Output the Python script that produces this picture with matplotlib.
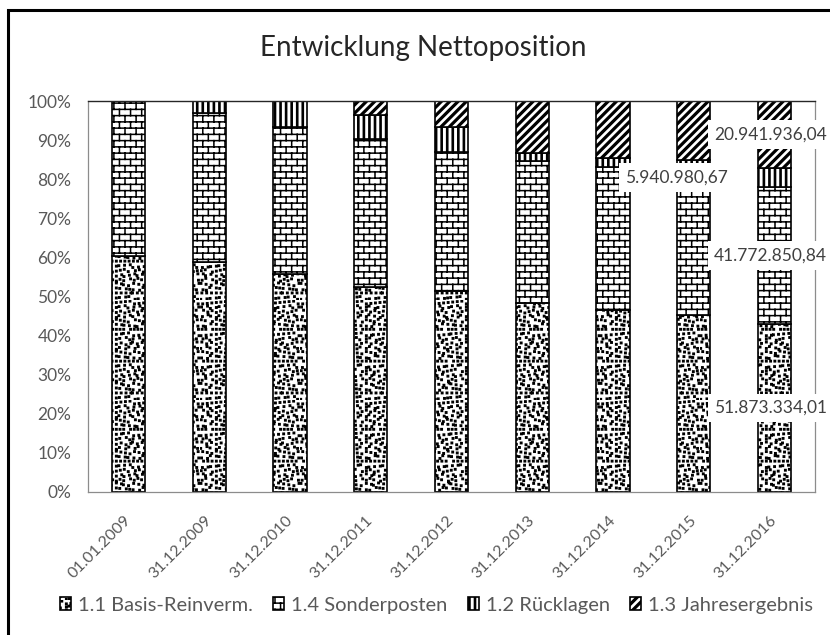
"""
Entwicklung Nettoposition - 100% gestapelte Säulen mit Schraffur-Mustern
(Basis-Reinvermögen, Sonderposten, Rücklagen, Jahresergebnis).
"""
import warnings

import matplotlib
matplotlib.use("Agg")
import matplotlib.pyplot as plt
import matplotlib.hatch as mhatch
from matplotlib.path import Path
from matplotlib.patches import Rectangle
import numpy as np

warnings.filterwarnings("ignore", message=".*hatch must consist.*")

# --- data (shares in % of Nettoposition) -----------------------------------
DATES = ["01.01.2009", "31.12.2009", "31.12.2010", "31.12.2011", "31.12.2012",
         "31.12.2013", "31.12.2014", "31.12.2015", "31.12.2016"]
BASIS = [60.4, 58.8, 55.7, 52.5, 51.4, 48.3, 46.5, 45.3, 43.0]
SONDERPOSTEN = [39.6, 38.1, 37.7, 37.8, 35.6, 36.4, 36.6, 34.7, 35.0]
RUECKLAGEN = [0.0, 3.1, 6.6, 6.1, 6.4, 2.0, 2.3, 4.9, 4.9]
JAHRESERGEBNIS = [0.0, 0.0, 0.0, 3.6, 6.6, 13.3, 14.6, 15.1, 17.1]
SERIES = ["1.1 Basis-Reinverm.", "1.4 Sonderposten", "1.2 Rücklagen",
          "1.3 Jahresergebnis"]
# data labels shown on the last column (same order as SERIES)
LABELS_2016 = ["51.873.334,01", "41.772.850,84", "5.940.980,67", "20.941.936,04"]

GRAY = "#595959"
MV, LT, CL = Path.MOVETO, Path.LINETO, Path.CLOSEPOLY


# --- custom fill patterns (unit tile = 1 inch) ------------------------------
def brick_tile(rows=16, cols=9):
    v, c = [], []
    h, w = 1.0 / rows, 1.0 / cols
    for r in range(rows):
        y = (r + 0.5) * h
        v += [(0, y), (1, y)]; c += [MV, LT]
        shift = 0.25 if r % 2 == 0 else 0.75
        for k in range(cols):
            x = (k + shift) * w
            if y + h <= 1:
                v += [(x, y), (x, y + h)]; c += [MV, LT]
            else:
                v += [(x, y), (x, 1), (x, 0), (x, y + h - 1)]; c += [MV, LT, MV, LT]
    return v, c


def confetti_tile(n=22, frac=0.3):
    # small squares on a grid, each nudged by a fixed hash so it reads as "confetti"
    v, c = [], []
    cell = 1.0 / n
    s = cell * frac
    for i in range(n):
        for j in range(n):
            jx = ((i * 37 + j * 61 + i * j * 17) % 11) / 11 * (cell - s)
            jy = ((i * 53 + j * 29 + i * j * 13) % 7) / 7 * (cell - s)
            x0, y0 = j * cell + jx, i * cell + jy
            v += [(x0, y0), (x0 + s, y0), (x0 + s, y0 + s), (x0, y0 + s), (x0, y0)]
            c += [MV, LT, LT, LT, CL]
    return v, c


def diagonal_tile(n=12, t=0.28):
    v, c = [], []
    d = 1.0 / n
    for k in range(-n, n):
        x0 = k * d
        v += [(x0, 0), (x0 + t * d, 0), (x0 + t * d + 1, 1), (x0 + 1, 1), (x0, 0)]
        c += [MV, LT, LT, LT, CL]
    return v, c


def vertical_tile(n=18, t=0.2):
    v, c = [], []
    d = 1.0 / n
    for k in range(n):
        x0 = (k + 0.5) * d - t * d / 2
        v += [(x0, 0), (x0 + t * d, 0), (x0 + t * d, 1), (x0, 1), (x0, 0)]
        c += [MV, LT, LT, LT, CL]
    return v, c


def register_hatch(char, builder):
    verts, codes = builder()

    class _Custom(mhatch.HatchPatternBase):
        def __init__(self, hatch, density):
            self.num_vertices = len(verts) if char in hatch else 0

        def set_vertices_and_codes(self, vertices, codes_out):
            vertices[:] = verts
            codes_out[:] = codes

    mhatch._hatch_types.append(_Custom)


register_hatch("c", confetti_tile)
register_hatch("b", brick_tile)
register_hatch("v", vertical_tile)
register_hatch("d", diagonal_tile)
HATCHES = ["c", "b", "v", "d"]

plt.rcParams["font.family"] = ["Lato", "DejaVu Sans"]
plt.rcParams["hatch.linewidth"] = 1.1
plt.rcParams["hatch.color"] = "black"

fig = plt.figure(figsize=(8.3, 6.35), dpi=100)
ax = fig.add_axes([88 / 830, 1 - 492 / 635, (815 - 88) / 830, (492 - 101) / 635])

x = np.arange(len(DATES))
values = [BASIS, SONDERPOSTEN, RUECKLAGEN, JAHRESERGEBNIS]
totals = np.sum(values, axis=0)
bottom = np.zeros(len(DATES))
handles = []
centers_last = []
for vals, name, hatch in zip(values, SERIES, HATCHES):
    share = np.array(vals) / totals * 100
    bars = ax.bar(x, share, 0.41, bottom=bottom, color="white", edgecolor="black",
                  linewidth=1.2, hatch=hatch, label=name)
    handles.append(bars)
    centers_last.append(bottom[-1] + share[-1] / 2)
    bottom += share

# data labels on the last column; the Rücklagen label was dragged left in Excel
label_dx = [-0.05, -0.05, -1.21, -0.05]
for txt, yc, dx in zip(LABELS_2016, centers_last, label_dx):
    ax.text(x[-1] + dx, yc, txt, ha="center", va="center", fontsize=12.5,
            color="#404040", clip_on=False,
            bbox=dict(facecolor="white", edgecolor="none", boxstyle="square,pad=0.35"))

ax.set_xlim(-0.5, len(DATES) - 0.5)
ax.set_ylim(0, 100)
ax.set_yticks(np.arange(0, 101, 10))
ax.set_yticklabels([f"{v}%" for v in range(0, 101, 10)])
ax.set_xticks(x)
ax.set_xticklabels(DATES, rotation=45, ha="right", va="center", rotation_mode="anchor")
ax.tick_params(axis="y", length=0, pad=12, labelsize=12.5, labelcolor=GRAY)
ax.tick_params(axis="x", length=0, pad=19, labelsize=11.5, labelcolor=GRAY)
for side in ["left", "right", "bottom"]:
    ax.spines[side].set_color("#8c8c8c")
    ax.spines[side].set_linewidth(0.9)
ax.spines["top"].set_color("#262626")
ax.spines["top"].set_linewidth(1.0)

fig.text(423 / 830, 1 - 48 / 635, "Entwicklung Nettoposition", ha="center",
         va="center", fontsize=20, color="#262626")

fig.legend(handles=handles, labels=SERIES, loc="center", bbox_to_anchor=(0.526, 0.047),
           ncol=4, frameon=False, fontsize=14.5, labelcolor=GRAY, handlelength=0.55,
           handleheight=0.55, handletextpad=0.35, columnspacing=1.0)

# chart-area border (right/bottom edges lie outside the screenshot)
fig.add_artist(Rectangle((8 / 830, -0.05), 1.0, 1.05 - 10 / 635, transform=fig.transFigure,
                         fill=False, edgecolor="black", linewidth=2.2))

fig.savefig("out.png", dpi=100)
